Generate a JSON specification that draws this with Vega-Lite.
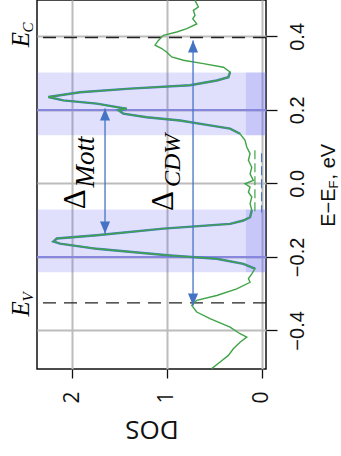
{
  "$schema": "https://vega.github.io/schema/vega-lite/v6.json",
  "width": 229,
  "height": 369,
  "autosize": {"type": "none"},
  "padding": {"left": 37, "top": 0, "right": 75, "bottom": 87},
  "background": "white",
  "config": {
    "view": {"stroke": "#111111", "strokeWidth": 1.5},
    "axis": {"domain": false, "gridColor": "#bcbcbc", "gridWidth": 2, "tickColor": "#111111", "tickWidth": 1.3, "labelColor": "#111111", "titleColor": "#111111"}
  },
  "datasets": {
    "curve": [
      {"E": 0.498, "D": 0.702}, {"E": 0.480, "D": 0.667}, {"E": 0.471, "D": 0.720}, {"E": 0.457, "D": 0.702},
      {"E": 0.448, "D": 0.726}, {"E": 0.434, "D": 0.684}, {"E": 0.421, "D": 0.789}, {"E": 0.412, "D": 0.895},
      {"E": 0.403, "D": 1.036}, {"E": 0.389, "D": 1.089}, {"E": 0.376, "D": 1.124}, {"E": 0.367, "D": 1.053},
      {"E": 0.357, "D": 1.000}, {"E": 0.344, "D": 0.948}, {"E": 0.335, "D": 0.825}, {"E": 0.326, "D": 0.614},
      {"E": 0.316, "D": 0.403}, {"E": 0.303, "D": 0.332}, {"E": 0.289, "D": 0.350}, {"E": 0.280, "D": 0.473},
      {"E": 0.267, "D": 0.755}, {"E": 0.258, "D": 1.388}, {"E": 0.248, "D": 1.916}, {"E": 0.235, "D": 2.250},
      {"E": 0.226, "D": 2.092}, {"E": 0.217, "D": 1.739}, {"E": 0.206, "D": 1.493}, {"E": 0.203, "D": 1.423},
      {"E": 0.199, "D": 1.511}, {"E": 0.190, "D": 1.459}, {"E": 0.180, "D": 1.212}, {"E": 0.171, "D": 0.860},
      {"E": 0.158, "D": 0.544}, {"E": 0.149, "D": 0.332}, {"E": 0.135, "D": 0.227}, {"E": 0.117, "D": 0.174},
      {"E": 0.099, "D": 0.156}, {"E": 0.081, "D": 0.121}, {"E": 0.063, "D": 0.139}, {"E": 0.044, "D": 0.103},
      {"E": 0.026, "D": 0.121}, {"E": 0.008, "D": 0.087}, {"E": -0.001, "D": 0.174}, {"E": -0.010, "D": 0.121},
      {"E": -0.024, "D": 0.139}, {"E": -0.037, "D": 0.103}, {"E": -0.055, "D": 0.121}, {"E": -0.073, "D": 0.103},
      {"E": -0.092, "D": 0.121}, {"E": -0.101, "D": 0.192}, {"E": -0.110, "D": 0.332}, {"E": -0.123, "D": 1.036},
      {"E": -0.141, "D": 1.739}, {"E": -0.150, "D": 2.161}, {"E": -0.158, "D": 2.197}, {"E": -0.164, "D": 2.127},
      {"E": -0.178, "D": 1.739}, {"E": -0.196, "D": 0.966}, {"E": -0.205, "D": 0.473}, {"E": -0.219, "D": 0.192},
      {"E": -0.232, "D": 0.069}, {"E": -0.246, "D": 0.103}, {"E": -0.259, "D": 0.139}, {"E": -0.269, "D": 0.121},
      {"E": -0.287, "D": 0.262}, {"E": -0.305, "D": 0.473}, {"E": -0.318, "D": 0.684}, {"E": -0.332, "D": 0.737},
      {"E": -0.350, "D": 0.684}, {"E": -0.368, "D": 0.544}, {"E": -0.391, "D": 0.332}, {"E": -0.409, "D": 0.227},
      {"E": -0.418, "D": 0.156}, {"E": -0.432, "D": 0.227}, {"E": -0.450, "D": 0.298}, {"E": -0.468, "D": 0.350},
      {"E": -0.486, "D": 0.438}, {"E": -0.504, "D": 0.526}
    ],
    "bands": [{"E1": 0.131, "E2": 0.302}, {"E1": -0.242, "E2": -0.071}],
    "levels": [{"name": "E_C", "E": 0.397}, {"name": "E_V", "E": -0.325}],
    "gaps": [
      {"name": "Mott", "D": 1.652, "top": 0.204, "bottom": -0.136},
      {"name": "CDW", "D": 0.723, "top": 0.389, "bottom": -0.332}
    ]
  },
  "encoding": {
    "y": {"type": "quantitative", "scale": {"domain": [-0.505, 0.499], "nice": false, "zero": false}},
    "x": {"type": "quantitative", "scale": {"domain": [-0.047, 2.37], "reverse": true, "nice": false, "zero": false}}
  },
  "layer": [
    {
      "data": {"name": "bands"},
      "mark": {"type": "rect", "color": "#6464f0", "opacity": 0.2},
      "encoding": {
        "y": {"field": "E1", "type": "quantitative", "axis": {"orient": "right", "grid": true, "values": [-0.4, -0.2, 0, 0.2, 0.4], "format": ".1f", "labelFont": "Liberation Sans", "labelFontSize": 20, "labelAngle": -90, "labelAlign": "center", "labelBaseline": "top", "labelPadding": 10, "tickSize": 11, "title": null}},
        "y2": {"field": "E2"},
        "x": {"datum": 2.37, "type": "quantitative", "axis": {"orient": "bottom", "grid": true, "values": [0, 1, 2], "format": "d", "labelFont": "Open Sans", "labelFontSize": 21, "labelAngle": -90, "labelAlign": "right", "labelBaseline": "middle", "labelPadding": 13, "tickSize": 9, "title": "DOS", "titleFont": "Open Sans", "titleFontSize": 26, "titleFontWeight": "normal", "titleAngle": 180, "titleBaseline": "bottom", "titlePadding": 12}},
        "x2": {"datum": -0.047}
      }
    },
    {
      "data": {"name": "bands"},
      "mark": {"type": "rect", "color": "#6464f0", "opacity": 0.2},
      "encoding": {
        "y": {"field": "E1", "type": "quantitative"},
        "y2": {"field": "E2"},
        "x": {"datum": 0.165, "type": "quantitative"},
        "x2": {"datum": -0.047}
      }
    },
    {
      "data": {"values": [{"E": 0.2}, {"E": -0.2}]},
      "mark": {"type": "rule", "color": "#8787de", "strokeWidth": 2},
      "encoding": {"y": {"field": "E", "type": "quantitative"}}
    },
    {
      "data": {"name": "levels"},
      "mark": {"type": "rule", "color": "#222222", "strokeWidth": 1.4, "strokeDash": [13, 8]},
      "encoding": {"y": {"field": "E", "type": "quantitative"}}
    },
    {
      "data": {"values": [{"D": 0.07, "top": 0.09, "bottom": -0.079}]},
      "mark": {"type": "rule", "color": "#3fa447", "strokeWidth": 1.2, "strokeDash": [9, 4]},
      "encoding": {"x": {"field": "D", "type": "quantitative"}, "y": {"field": "top", "type": "quantitative"}, "y2": {"field": "bottom"}}
    },
    {
      "data": {"values": [{"D": 0.0, "top": 0.082, "bottom": -0.079}]},
      "mark": {"type": "rule", "color": "#4a78c8", "strokeWidth": 1.2, "strokeDash": [9, 4]},
      "encoding": {"x": {"field": "D", "type": "quantitative"}, "y": {"field": "top", "type": "quantitative"}, "y2": {"field": "bottom"}}
    },
    {
      "data": {"name": "curve"},
      "transform": [{"filter": "(datum.E >= 0.13 && datum.E <= 0.305) || (datum.E >= -0.245 && datum.E <= -0.07)"},
                    {"calculate": "datum.E > 0 ? 'up' : 'down'", "as": "part"}],
      "mark": {"type": "line", "color": "#4a78c8", "strokeWidth": 2.4},
      "encoding": {"x": {"field": "D", "type": "quantitative"}, "y": {"field": "E", "type": "quantitative"}, "order": {"field": "E", "type": "quantitative"}, "detail": {"field": "part"}}
    },
    {
      "data": {"name": "curve"},
      "mark": {"type": "line", "color": "#3fa447", "strokeWidth": 1.4},
      "encoding": {"x": {"field": "D", "type": "quantitative"}, "y": {"field": "E", "type": "quantitative"}, "order": {"field": "E", "type": "quantitative"}}
    },
    {
      "data": {"name": "gaps"},
      "mark": {"type": "rule", "color": "#4472c4", "strokeWidth": 1.3},
      "encoding": {"x": {"field": "D", "type": "quantitative"}, "y": {"field": "top", "type": "quantitative"}, "y2": {"field": "bottom"}}
    },
    {
      "data": {"name": "gaps"},
      "mark": {"type": "point", "shape": "M0,0L-0.42,1L0.42,1Z", "size": 576, "filled": true, "color": "#4472c4", "opacity": 1},
      "encoding": {"x": {"field": "D", "type": "quantitative"}, "y": {"field": "top", "type": "quantitative"}}
    },
    {
      "data": {"name": "gaps"},
      "mark": {"type": "point", "shape": "M0,0L-0.42,-1L0.42,-1Z", "size": 576, "filled": true, "color": "#4472c4", "opacity": 1},
      "encoding": {"x": {"field": "D", "type": "quantitative"}, "y": {"field": "bottom", "type": "quantitative"}}
    },
    {
      "data": {"values": [{"t": "Δ", "D": 1.958, "E": -0.0435}, {"t": "Δ", "D": 1.034, "E": -0.048}]},
      "mark": {"type": "text", "font": "Liberation Serif", "fontSize": 31, "angle": 270, "align": "center", "baseline": "middle", "color": "#000000"},
      "encoding": {"x": {"field": "D", "type": "quantitative"}, "y": {"field": "E", "type": "quantitative"}, "text": {"field": "t"}}
    },
    {
      "data": {"values": [{"t": "Mott", "D": 1.958, "E": -0.0435}]},
      "mark": {"type": "text", "font": "Liberation Serif", "fontStyle": "italic", "fontSize": 27, "angle": 270, "align": "left", "baseline": "middle", "dx": 12, "dy": 10, "color": "#000000"},
      "encoding": {"x": {"field": "D", "type": "quantitative"}, "y": {"field": "E", "type": "quantitative"}, "text": {"field": "t"}}
    },
    {
      "data": {"values": [{"t": "CDW", "D": 1.034, "E": -0.048}]},
      "mark": {"type": "text", "font": "Liberation Serif", "fontStyle": "italic", "fontSize": 24, "angle": 270, "align": "left", "baseline": "middle", "dx": 14, "dy": 9, "color": "#000000"},
      "encoding": {"x": {"field": "D", "type": "quantitative"}, "y": {"field": "E", "type": "quantitative"}, "text": {"field": "t"}}
    },
    {
      "data": {"values": [{"t": "E", "D": 2.54, "E": 0.397}]},
      "mark": {"type": "text", "font": "Liberation Serif", "fontStyle": "italic", "fontSize": 25, "angle": 270, "align": "center", "baseline": "middle", "dx": -2, "color": "#000000"},
      "encoding": {"x": {"field": "D", "type": "quantitative"}, "y": {"field": "E", "type": "quantitative"}, "text": {"field": "t"}}
    },
    {
      "data": {"values": [{"t": "C", "D": 2.54, "E": 0.397}]},
      "mark": {"type": "text", "font": "Liberation Serif", "fontStyle": "italic", "fontSize": 15, "angle": 270, "align": "center", "baseline": "middle", "dx": 10, "dy": 7, "color": "#000000"},
      "encoding": {"x": {"field": "D", "type": "quantitative"}, "y": {"field": "E", "type": "quantitative"}, "text": {"field": "t"}}
    },
    {
      "data": {"values": [{"t": "E", "D": 2.54, "E": -0.325}]},
      "mark": {"type": "text", "font": "Liberation Serif", "fontStyle": "italic", "fontSize": 25, "angle": 270, "align": "center", "baseline": "middle", "dx": -6, "color": "#000000"},
      "encoding": {"x": {"field": "D", "type": "quantitative"}, "y": {"field": "E", "type": "quantitative"}, "text": {"field": "t"}}
    },
    {
      "data": {"values": [{"t": "V", "D": 2.54, "E": -0.325}]},
      "mark": {"type": "text", "font": "Liberation Serif", "fontStyle": "italic", "fontSize": 15, "angle": 270, "align": "center", "baseline": "middle", "dx": 6, "dy": 7, "color": "#000000"},
      "encoding": {"x": {"field": "D", "type": "quantitative"}, "y": {"field": "E", "type": "quantitative"}, "text": {"field": "t"}}
    },
    {
      "data": {"values": [{"t": "E−E", "D": -0.71, "E": 0.0}]},
      "mark": {"type": "text", "font": "Liberation Sans", "fontSize": 20, "angle": 270, "align": "right", "baseline": "middle", "dx": -5, "color": "#111111"},
      "encoding": {"x": {"field": "D", "type": "quantitative"}, "y": {"field": "E", "type": "quantitative"}, "text": {"field": "t"}}
    },
    {
      "data": {"values": [{"t": "F", "D": -0.71, "E": 0.0}]},
      "mark": {"type": "text", "font": "Liberation Sans", "fontSize": 13, "angle": 270, "align": "left", "baseline": "middle", "dx": -5, "dy": 5, "color": "#111111"},
      "encoding": {"x": {"field": "D", "type": "quantitative"}, "y": {"field": "E", "type": "quantitative"}, "text": {"field": "t"}}
    },
    {
      "data": {"values": [{"t": ", eV", "D": -0.71, "E": 0.0}]},
      "mark": {"type": "text", "font": "Liberation Sans", "fontSize": 20, "angle": 270, "align": "left", "baseline": "middle", "dx": 4, "color": "#111111"},
      "encoding": {"x": {"field": "D", "type": "quantitative"}, "y": {"field": "E", "type": "quantitative"}, "text": {"field": "t"}}
    }
  ]
}
